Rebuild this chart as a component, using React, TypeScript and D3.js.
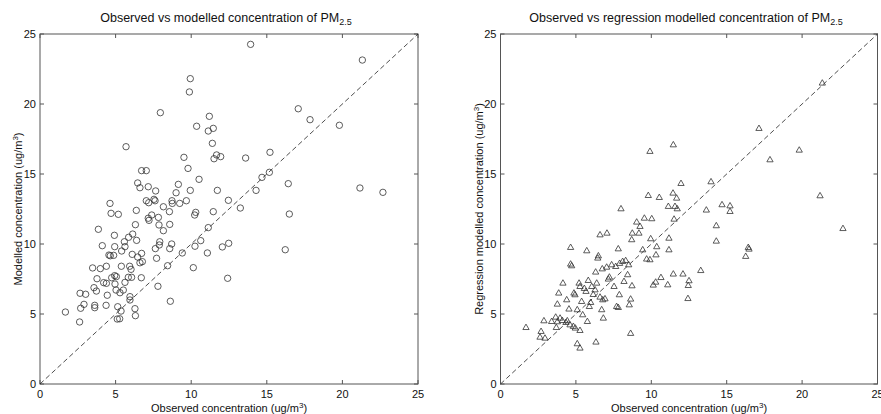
import React from "react";
import * as d3 from "d3";

// Observed vs modelled (dispersion model) concentrations, ug/m3
const modelObserved = [
  3.86, 4.12, 4.63, 4.70, 5.18, 4.92, 4.94, 5.69, 5.58, 5.86, 6.13, 6.31, 6.37, 6.39, 6.46, 6.61, 6.72, 7.03, 7.03, 7.16,
  7.19, 7.16, 7.21, 7.39, 7.54, 7.61, 7.65, 7.83, 7.87, 7.96, 7.92, 8.16, 8.16, 8.56, 8.58, 8.73, 8.75, 8.71, 9.00, 9.15,
  9.24, 1.68, 2.62, 2.65, 2.69, 2.91, 3.02, 3.48, 3.57, 3.62, 3.62, 3.73, 3.77, 3.99, 4.21, 4.39, 4.39, 4.45, 4.37, 4.56,
  4.65, 4.74, 4.87, 4.94, 5.05, 4.96, 5.03, 5.14, 5.11, 5.27, 5.29, 5.36, 5.38, 5.40, 5.51, 5.62, 5.84, 5.93, 5.95, 5.95,
  6.02, 6.06, 6.10, 6.28, 6.31, 6.46, 6.61, 6.70, 6.72, 6.77, 7.63, 7.71, 7.80, 7.89, 8.44, 8.58, 8.62, 5.62, 13.93, 21.32,
  9.94, 9.88, 11.20, 10.36, 11.13, 11.46, 11.40, 17.08, 17.86, 19.80, 9.52, 9.79, 10.52, 11.51, 11.68, 11.95, 13.60, 15.21, 14.68, 15.17,
  14.29, 16.42, 16.49, 21.16, 22.68, 12.46, 13.25, 11.73, 9.94, 9.68, 11.46, 10.30, 10.23, 11.13, 16.22, 10.14, 12.41, 9.41, 10.25, 10.63,
  11.07, 12.06, 12.48,
];
const modelPredicted = [
  11.05, 9.88, 12.90, 12.19, 12.12, 10.62, 9.81, 16.95, 10.16, 10.48, 10.71, 11.38, 12.40, 10.26, 14.36, 14.02, 15.24, 15.24, 13.09, 14.09,
  12.95, 11.84, 11.69, 12.07, 13.19, 13.09, 13.79, 11.90, 11.36, 19.38, 10.16, 12.66, 10.95, 12.31, 11.40, 13.09, 12.90, 10.00, 13.66, 14.26,
  12.90, 5.14, 4.43, 6.48, 5.41, 5.69, 6.41, 8.29, 6.88, 5.62, 5.45, 6.64, 7.52, 8.24, 7.24, 7.19, 8.41, 6.34, 5.62, 9.21,
  9.16, 7.59, 9.19, 7.74, 7.67, 7.14, 6.71, 5.52, 4.64, 4.66, 6.52, 5.21, 8.41, 9.50, 6.71, 7.26, 7.62, 8.41, 6.24, 6.00,
  8.19, 7.62, 9.26, 5.38, 4.88, 9.07, 8.66, 7.59, 9.33, 8.74, 9.67, 8.98, 6.98, 9.93, 8.45, 9.67, 5.91, 9.81, 24.26, 23.14,
  21.81, 20.86, 19.12, 18.41, 18.07, 18.26, 17.19, 19.66, 18.88, 18.48, 16.19, 15.40, 14.62, 16.09, 16.36, 16.24, 16.14, 16.55, 14.76, 15.12,
  13.83, 14.31, 12.14, 14.00, 13.69, 13.12, 12.57, 13.83, 13.83, 13.09, 12.31, 12.26, 12.07, 11.17, 9.59, 8.31, 7.55, 9.36, 9.84, 10.24,
  9.36, 9.79, 10.05,
];

// Observed vs regression-modelled concentrations, ug/m3
const regObserved = [
  4.65, 4.65, 5.72, 6.49, 6.45, 6.60, 7.06, 7.99, 7.81, 8.70, 8.74, 9.03, 9.25, 9.18, 9.54, 10.03, 9.91, 9.80, 10.53, 9.96,
  10.36, 11.13, 11.17, 11.17, 9.43, 10.31, 9.69, 21.34, 17.14, 11.46, 19.81, 17.87, 11.97, 13.96, 11.44, 11.68, 11.57, 11.72, 13.65, 14.69,
  15.22, 15.22, 21.19, 11.51, 14.31, 22.71, 14.31, 16.43, 16.48, 16.26, 13.28, 11.46, 12.10, 10.64, 10.29, 10.13, 11.09, 12.50, 12.45, 12.43,
  1.69, 2.69, 2.62, 2.95, 2.88, 3.66, 3.39, 3.70, 3.77, 3.95, 4.10, 4.34, 4.43, 4.61, 4.83, 4.96, 5.27, 5.09, 5.27, 6.33,
  8.63, 3.77, 3.86, 4.14, 4.39, 4.54, 4.72, 4.87, 4.94, 5.09, 5.21, 5.27, 5.38, 5.45, 5.56, 5.67, 5.76, 5.82, 5.89, 5.98,
  6.05, 6.15, 6.27, 6.31, 6.38, 6.60, 6.71, 6.78, 6.75, 6.82, 6.93, 7.04, 7.15, 7.22, 7.37, 7.53, 7.64, 7.70, 7.81, 7.88,
  8.10, 8.19, 8.43, 8.54, 8.63, 8.72, 9.91, 7.90, 8.30, 8.50,
];
const regPredicted = [
  9.74, 8.55, 9.50, 9.14, 8.98, 10.64, 10.76, 12.50, 9.64, 10.29, 10.76, 11.55, 11.24, 10.76, 11.83, 11.79, 16.60, 13.45, 13.31, 10.36,
  9.79, 12.67, 10.40, 9.57, 9.57, 9.21, 8.91, 21.48, 18.24, 17.07, 16.69, 16.00, 14.31, 14.43, 13.62, 13.26, 12.67, 12.50, 12.41, 12.79,
  12.71, 12.31, 13.43, 11.76, 11.29, 11.09, 10.19, 9.74, 9.62, 9.10, 8.09, 7.84, 7.84, 7.59, 7.26, 7.05, 7.07, 7.36, 7.02, 6.09,
  4.02, 3.74, 3.33, 3.26, 4.50, 4.76, 4.45, 4.02, 4.43, 4.69, 4.52, 4.38, 4.50, 4.21, 4.10, 3.98, 3.81, 2.86, 2.55, 2.98,
  3.60, 5.69, 6.48, 7.19, 6.00, 5.34, 8.43, 6.48, 6.36, 5.29, 7.19, 6.95, 5.88, 4.93, 6.81, 6.60, 4.45, 7.38, 5.52, 5.81,
  6.95, 6.38, 6.71, 7.98, 7.19, 6.19, 5.29, 6.00, 8.21, 4.69, 6.07, 8.33, 7.48, 7.62, 8.50, 6.95, 8.38, 5.52, 5.45, 6.36,
  8.74, 7.31, 7.79, 5.64, 6.05, 7.00, 8.86, 8.60, 8.80, 8.50,
];

const axisTicks = [0, 5, 10, 15, 20, 25];

const FONT = "'Liberation Sans', Arial, sans-serif";
const INK = "#333";
const AXIS = "#555";

type PanelProps = {
  x0: number;
  x1: number;
  title: string;
  yLabel: string;
  xs: number[];
  ys: number[];
  marker: "circle" | "triangle";
};

function Panel({ x0, x1, title, yLabel, xs, ys, marker }: PanelProps) {
  const top = 34;
  const bottom = 384;
  const x = d3.scaleLinear().domain([0, 25]).range([x0, x1]);
  const y = d3.scaleLinear().domain([0, 25]).range([bottom, top]);
  const tickLen = 4;
  const tri = d3.symbol().type(d3.symbolTriangle).size(17)();
  const cx = (x0 + x1) / 2;
  const cy = (top + bottom) / 2;

  return (
    <g>
      {/* title */}
      <text x={cx - 3} y={22} textAnchor="middle" fontSize={12.5} fontFamily={FONT} fill="#111">
        {title}
        <tspan fontSize={9} dy={3}>2.5</tspan>
      </text>

      {/* frame */}
      <rect x={x0} y={top} width={x1 - x0} height={bottom - top} fill="none" stroke={AXIS} strokeWidth={1} />

      {/* ticks on all four sides */}
      {axisTicks.map((t) => (
        <g key={"t" + t}>
          <line x1={x(t)} x2={x(t)} y1={bottom} y2={bottom - tickLen} stroke={AXIS} />
          <line x1={x(t)} x2={x(t)} y1={top} y2={top + tickLen} stroke={AXIS} />
          <line x1={x0} x2={x0 + tickLen} y1={y(t)} y2={y(t)} stroke={AXIS} />
          <line x1={x1} x2={x1 - tickLen} y1={y(t)} y2={y(t)} stroke={AXIS} />
          <text x={x(t)} y={398} textAnchor="middle" fontSize={11} fontFamily={FONT} fill="#111">
            {t}
          </text>
          <text x={x0 - 4} y={y(t) + 4} textAnchor="end" fontSize={11} fontFamily={FONT} fill="#111">
            {t}
          </text>
        </g>
      ))}

      {/* 1:1 line */}
      <line
        x1={x(0)}
        y1={y(0)}
        x2={x(25)}
        y2={y(25)}
        stroke="#222"
        strokeWidth={0.8}
        strokeDasharray="5,3"
      />

      {/* points */}
      {xs.map((v, i) =>
        marker === "circle" ? (
          <circle key={i} cx={x(v)} cy={y(ys[i])} r={3.2} fill="none" stroke={INK} strokeWidth={0.8} />
        ) : (
          <path
            key={i}
            d={tri as string}
            transform={`translate(${x(v)},${y(ys[i])})`}
            fill="none"
            stroke={INK}
            strokeWidth={0.8}
          />
        )
      )}

      {/* axis labels */}
      <text x={cx} y={412} textAnchor="middle" fontSize={11} fontFamily={FONT} fill="#111">
        Observed concentration (ug/m
        <tspan fontSize={8} dy={-4}>3</tspan>
        <tspan dy={4}>)</tspan>
      </text>
      <text
        transform={`translate(${x0 - 18},${cy}) rotate(-90)`}
        textAnchor="middle"
        fontSize={11}
        fontFamily={FONT}
        fill="#111"
      >
        {yLabel}
        <tspan fontSize={8} dy={-4}>3</tspan>
        <tspan dy={4}>)</tspan>
      </text>
    </g>
  );
}

export default function App() {
  return (
    <svg
      width={881}
      height={414}
      style={{ position: "absolute", left: 0, top: 0, background: "#fff" }}
    >
      <rect width={881} height={414} fill="#fff" />
      <Panel
        x0={40}
        x1={418}
        title="Observed vs modelled concentration of PM"
        yLabel="Modelled concentration (ug/m"
        xs={modelObserved}
        ys={modelPredicted}
        marker="circle"
      />
      <Panel
        x0={500.5}
        x1={877.5}
        title="Observed vs regression modelled concentration of PM"
        yLabel="Regression modelled concentration (ug/m"
        xs={regObserved}
        ys={regPredicted}
        marker="triangle"
      />
    </svg>
  );
}
